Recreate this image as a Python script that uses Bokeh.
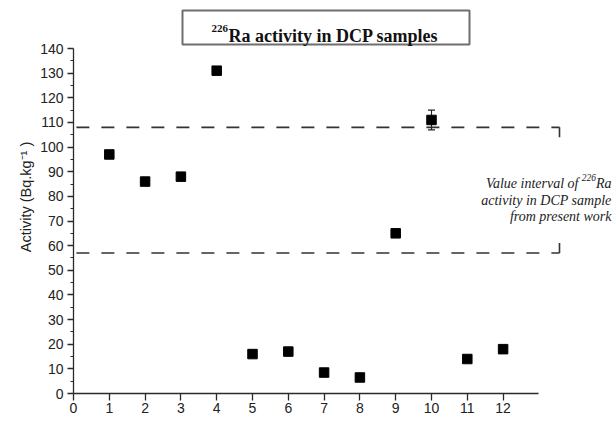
from bokeh.plotting import figure
from bokeh.models import Range1d, FixedTicker, Label
from bokeh.embed import file_html
from bokeh.resources import INLINE
from bokeh.core.properties import value

# ---- data ----
samples = [1, 2, 3, 4, 5, 6, 7, 8, 9, 10, 11, 12]
activity = [97, 86, 88, 131, 16, 17, 8.5, 6.5, 65, 111, 14, 18]
err_sample = [10]
err_value = [111]
err_size = [4]
interval_hi = 108
interval_lo = 57
x_ticks = list(range(0, 13))
y_ticks = list(range(0, 141, 10))
y_minor = list(range(5, 140, 10))

# ---- layout (page pixels == canvas pixels) ----
W, H = 616, 439
BL, BB = 73, 46
FW, FH = W - BL, H - BB
X_END = FW / 35.8
Y_END = 140 + 48 / 2.464


def dx(px):
    return (px - BL) * X_END / FW


def dy(py):
    return (FH - py) * Y_END / FH


p = figure(width=W, height=H, output_backend="svg", toolbar_location=None,
           x_range=Range1d(0, X_END), y_range=Range1d(0, Y_END),
           min_border_left=BL, min_border_right=0, min_border_top=0,
           min_border_bottom=BB)
p.outline_line_color = None
p.xgrid.grid_line_color = None
p.ygrid.grid_line_color = None

AX = "#2a2a2a"
p.xaxis.ticker = FixedTicker(ticks=x_ticks)
p.xaxis.bounds = (0, 13)
p.yaxis.ticker = FixedTicker(ticks=y_ticks, minor_ticks=y_minor)
p.yaxis.bounds = (0, 140)
for ax in (p.xaxis, p.yaxis):
    ax.axis_line_color = AX
    ax.axis_line_width = 1.3
    ax.major_tick_line_color = AX
    ax.minor_tick_line_color = AX
    ax.major_tick_line_width = 1.3
    ax.major_tick_in = 0
    ax.minor_tick_in = 0
    ax.major_label_text_font = "Liberation Sans"
    ax.major_label_text_font_size = "14px"
    ax.major_label_text_color = "#222222"
p.xaxis.major_tick_out = 7
p.xaxis.minor_tick_out = 0
p.xaxis.major_label_standoff = 2
p.yaxis.major_tick_out = 6
p.yaxis.minor_tick_out = 3
p.yaxis.major_label_standoff = 4
p.yaxis.axis_label = "Activity (Bq.kg\u207b\u00b9 )"
p.yaxis.axis_label_text_font = "Liberation Sans"
p.yaxis.axis_label_text_font_style = "normal"
p.yaxis.axis_label_text_font_size = "14.5px"
p.yaxis.axis_label_text_color = "#222222"
p.yaxis.axis_label_standoff = 3

# interval dashed lines with end hooks
HOOK_X = dx(559)
HOOK = 10 * Y_END / FH
p.segment(x0=[0.08, 0.08], y0=[interval_hi, interval_lo], x1=[HOOK_X, HOOK_X],
          y1=[interval_hi, interval_lo], line_color="#333333", line_width=1.6,
          line_dash="13 12")
p.segment(x0=[HOOK_X, HOOK_X], y0=[interval_hi, interval_lo],
          x1=[HOOK_X, HOOK_X], y1=[interval_hi - HOOK, interval_lo + HOOK],
          line_color="#333333", line_width=1.6)

# error bar
lo = [v - e for v, e in zip(err_value, err_size)]
hi = [v + e for v, e in zip(err_value, err_size)]
p.segment(x0=err_sample, y0=lo, x1=err_sample, y1=hi, line_color="#222222", line_width=1.1)
p.scatter(x=err_sample + err_sample, y=lo + hi, marker="dash", size=7,
          line_color="#222222", line_width=1.1)

# data points
p.scatter(x=samples, y=activity, marker="square", size=9.5, color="#000000")

# title box
p.quad(left=[dx(182)], right=[dx(469)], bottom=[dy(44)], top=[dy(10)],
       fill_color=None, line_color="#6e6e6e", line_width=2)
p.text(x=[dx(228)], y=[dy(35)], text=["Ra activity in DCP samples"],
       text_font=value("Liberation Serif"), text_font_style="bold",
       text_font_size="18px", text_align="left", text_baseline="alphabetic",
       text_color="#111111")
p.text(x=[dx(227.5)], y=[dy(28)], text=["226"],
       text_font=value("Liberation Serif"), text_font_style="bold",
       text_font_size="11px", text_align="right", text_baseline="alphabetic",
       text_color="#111111")

# right annotation
XR = dx(611)
ann = dict(text_font=value("Liberation Serif"), text_font_style="italic",
           text_align="right", text_baseline="alphabetic", text_color="#222222")
p.text(x=[XR], y=[dy(183)], text=["Ra"], text_font_size="14px", **ann)
p.text(x=[XR], y=[dy(177)], text=["226"], text_font_size="9.5px", x_offset=-15.6, **ann)
p.text(x=[XR], y=[dy(183)], text=["Value interval of"], text_font_size="14px",
       x_offset=-33, **ann)
p.text(x=[XR], y=[dy(199.5)], text=["activity in DCP sample"], text_font_size="14px", **ann)
p.text(x=[XR], y=[dy(216)], text=["from present work"], text_font_size="14px", **ann)

# x axis title
p.add_layout(Label(x=dx(310), y=dy(430), text="Twelve DCP samples (1-12)",
                   text_font="Liberation Sans", text_font_size="16.5px",
                   text_align="center", text_baseline="alphabetic", text_color="#222222"))

open("out.html", "w").write(file_html(p, INLINE))
